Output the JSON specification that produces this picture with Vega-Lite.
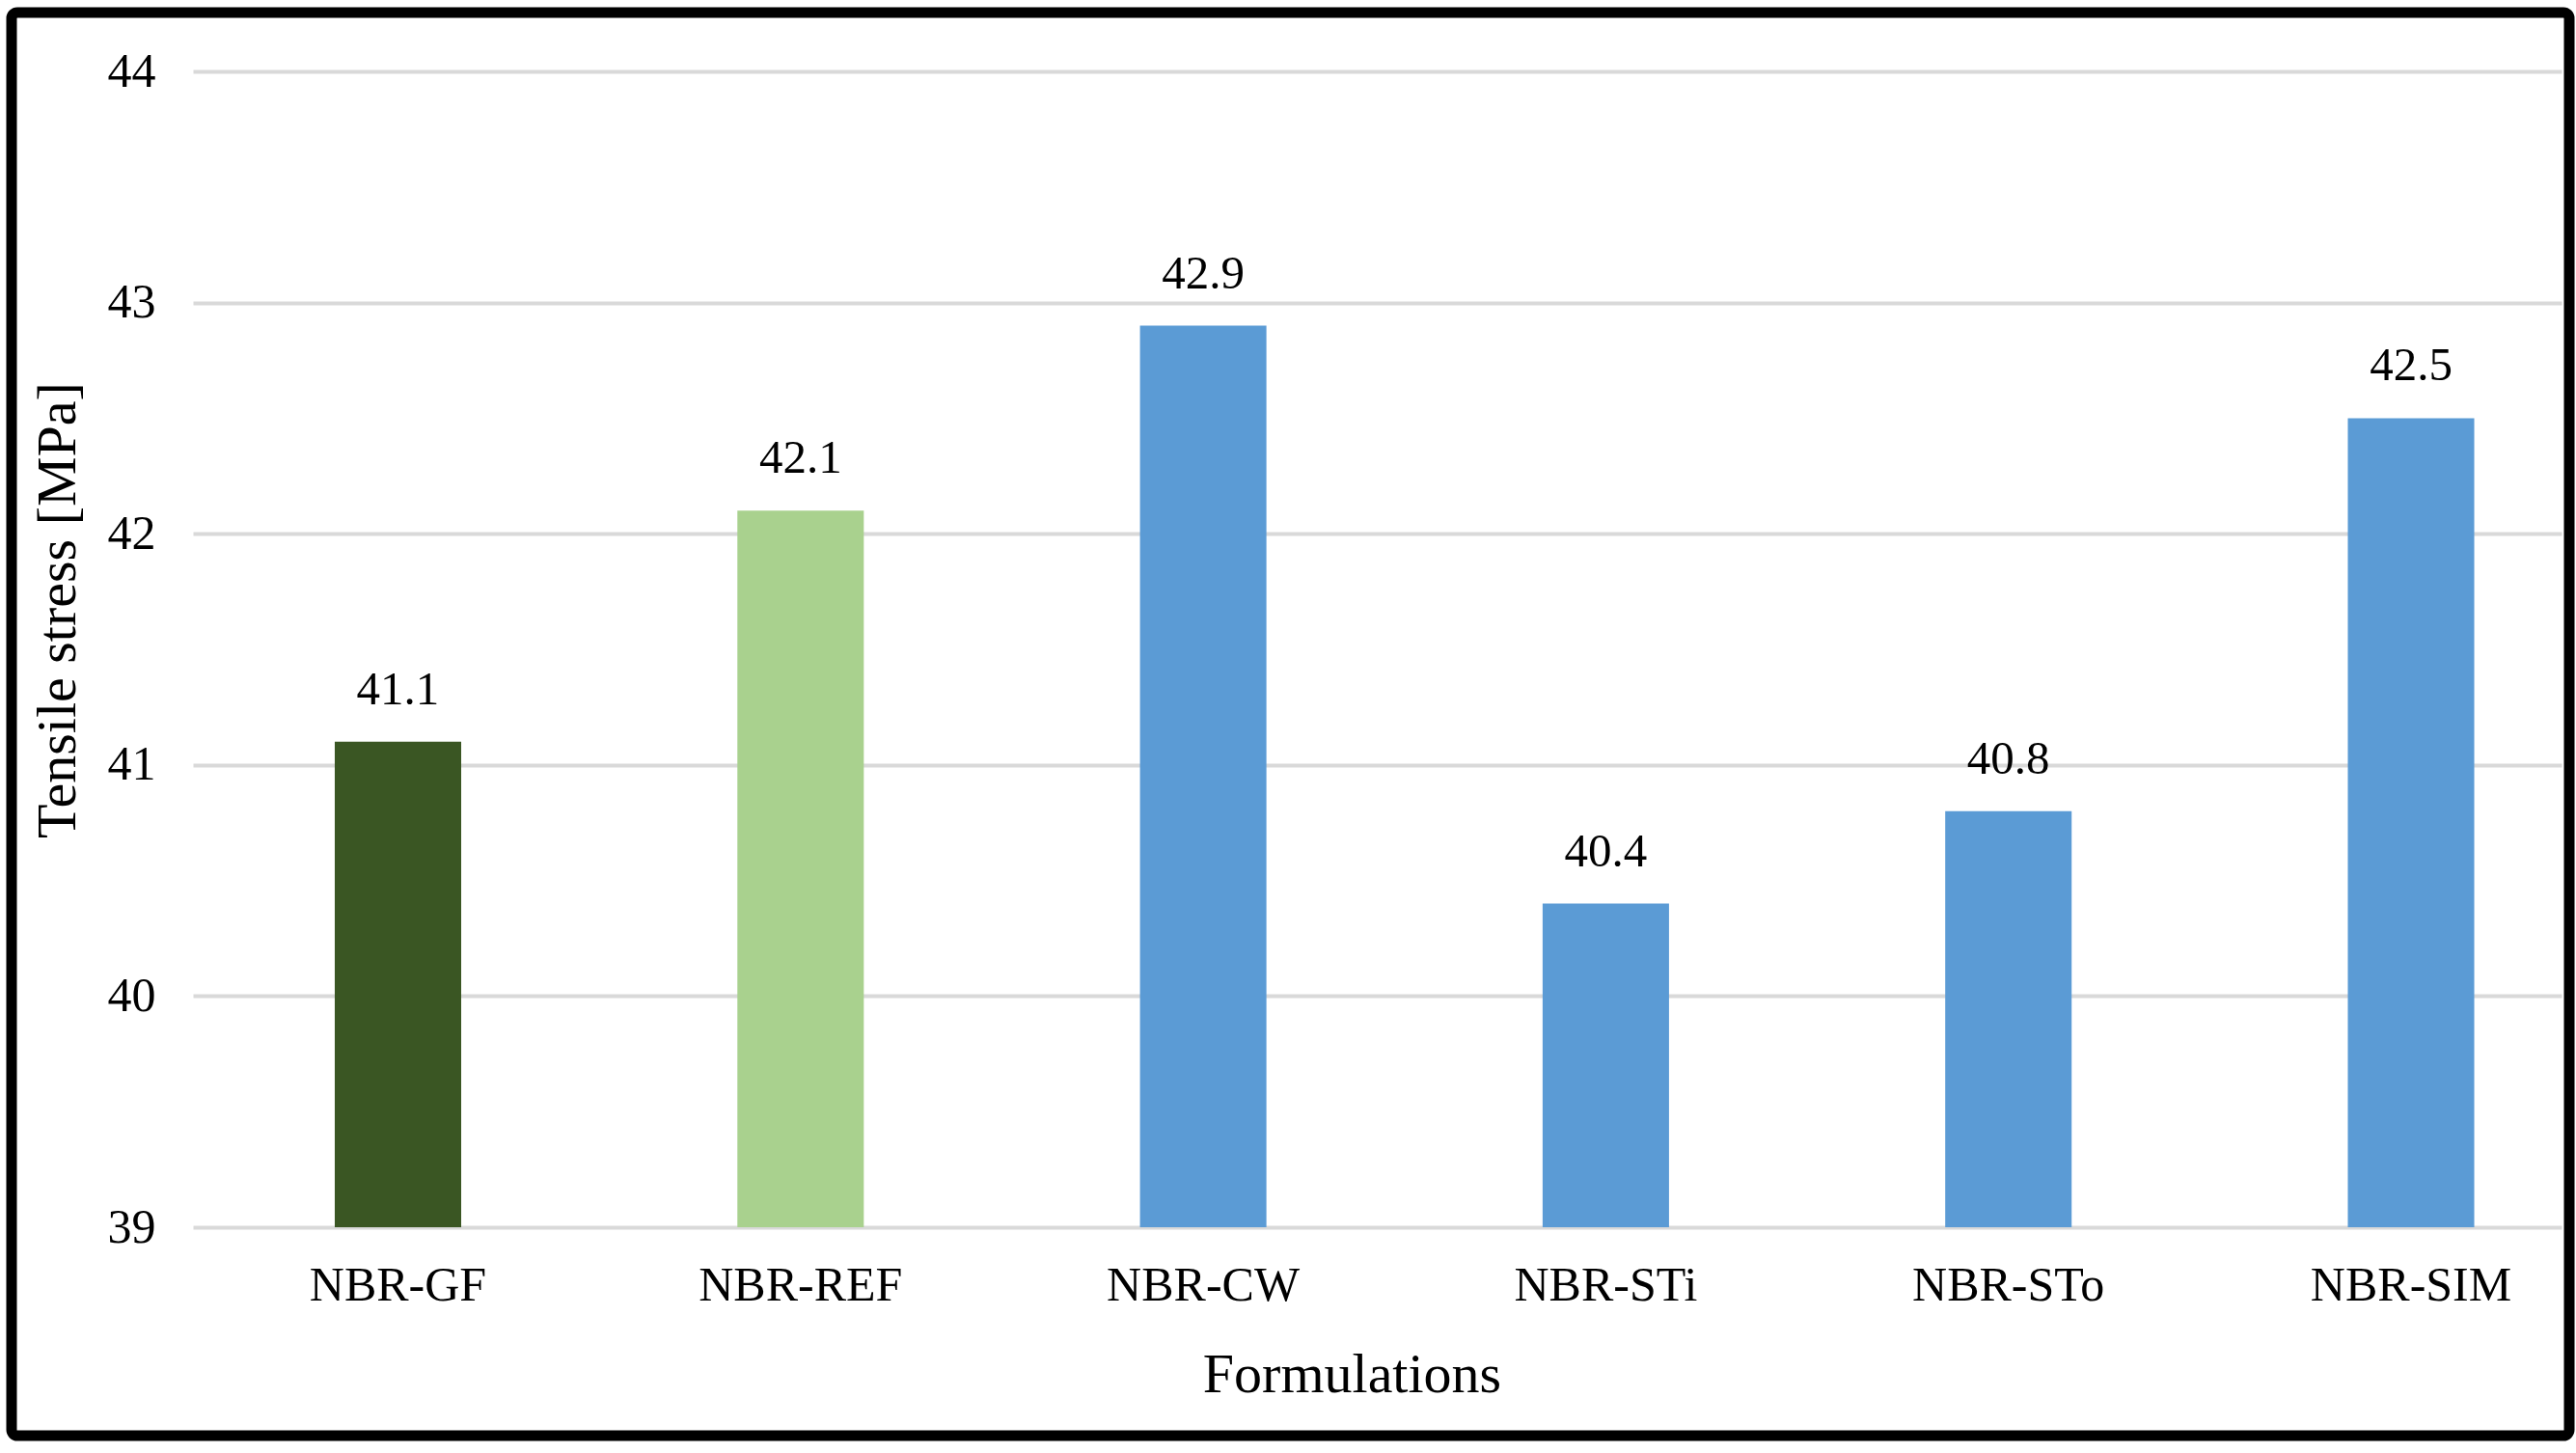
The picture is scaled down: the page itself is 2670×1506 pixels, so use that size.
{
  "$schema": "https://vega.github.io/schema/vega-lite/v6.json",
  "width": 2651,
  "height": 1475,
  "autosize": {"type": "none"},
  "padding": {"left": 12, "top": 13, "right": 7, "bottom": 18},
  "background": "white",
  "config": {
    "view": {"stroke": "black", "strokeWidth": 11, "cornerRadius": 6, "fill": "white"},
    "font": "Liberation Serif"
  },
  "data": {
    "values": [
      {"formulation": "NBR-GF", "stress": 41.1},
      {"formulation": "NBR-REF", "stress": 42.1},
      {"formulation": "NBR-CW", "stress": 42.9},
      {"formulation": "NBR-STi", "stress": 40.4},
      {"formulation": "NBR-STo", "stress": 40.8},
      {"formulation": "NBR-SIM", "stress": 42.5}
    ]
  },
  "encoding": {
    "x": {
      "field": "formulation",
      "type": "nominal",
      "sort": null,
      "scale": {"range": [188, 2643], "paddingInner": 0.686, "paddingOuter": 0.2845, "align": 0.619},
      "axis": {
        "title": "Formulations",
        "labelAngle": 0,
        "labelLimit": 0,
        "domain": false,
        "ticks": false,
        "grid": false,
        "offset": -216,
        "labelPadding": 35,
        "labelFontSize": 50,
        "labelColor": "black",
        "labelFont": "Liberation Serif",
        "titleFont": "Liberation Serif",
        "titleFontSize": 58,
        "titleFontWeight": "normal",
        "titleColor": "black",
        "titleX": 1389,
        "titleY": 170,
        "titleBaseline": "alphabetic",
        "titleAlign": "center"
      }
    },
    "y": {
      "field": "stress",
      "type": "quantitative",
      "scale": {"domain": [39, 44], "range": [1259, 61], "zero": false, "nice": false},
      "axis": {
        "title": "Tensile stress [MPa]",
        "values": [39, 40, 41, 42, 43, 44],
        "format": "d",
        "domain": false,
        "ticks": false,
        "offset": -188,
        "labelPadding": 39,
        "labelFontSize": 50,
        "labelColor": "black",
        "labelFont": "Liberation Serif",
        "gridColor": "#d9d9d9",
        "gridWidth": 4,
        "titleFont": "Liberation Serif",
        "titleFontSize": 58,
        "titleFontWeight": "normal",
        "titleColor": "black",
        "titleX": -123,
        "titleY": 619,
        "titleAngle": -90,
        "titleBaseline": "alphabetic",
        "titleAlign": "center"
      }
    }
  },
  "layer": [
    {
      "mark": {"type": "bar"},
      "encoding": {
        "y2": {"datum": 39},
        "color": {
          "field": "formulation",
          "type": "nominal",
          "scale": {
            "domain": ["NBR-GF", "NBR-REF", "NBR-CW", "NBR-STi", "NBR-STo", "NBR-SIM"],
            "range": ["#3a5623", "#a9d18e", "#5b9bd5", "#5b9bd5", "#5b9bd5", "#5b9bd5"]
          },
          "legend": null
        }
      }
    },
    {
      "mark": {"type": "text", "dy": -39, "baseline": "alphabetic", "fontSize": 49, "font": "Liberation Serif", "color": "black"},
      "encoding": {"text": {"field": "stress", "type": "quantitative", "format": ".1f"}}
    }
  ]
}
